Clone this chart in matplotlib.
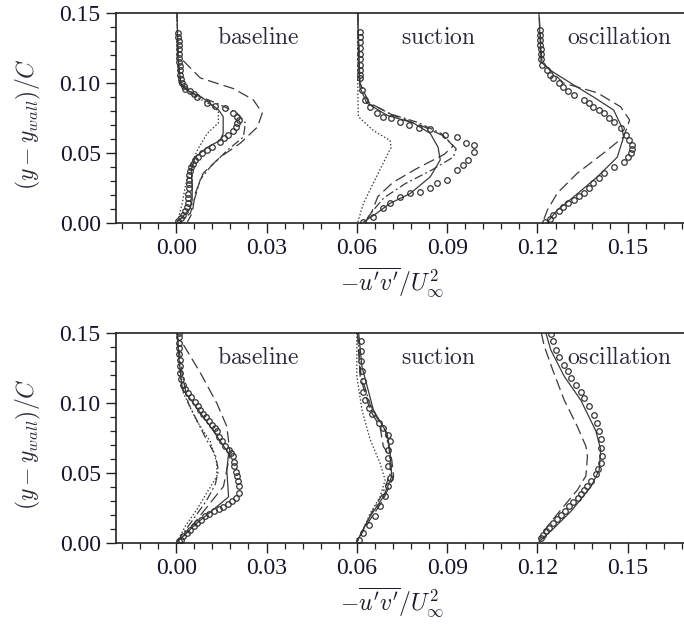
import matplotlib
matplotlib.use("Agg")
import matplotlib.pyplot as plt
from matplotlib.ticker import MultipleLocator, FormatStrFormatter

plt.rcParams['mathtext.fontset'] = 'cm'

# ---------------- data ----------------
cases = ["baseline", "suction", "oscillation"]
offsets = [0.0, 0.06, 0.12]
xticks = [0.00, 0.03, 0.06, 0.09, 0.12, 0.15]
yticks = [0.00, 0.05, 0.10, 0.15]

# ===== TOP PANEL =====
# baseline
t_base_exp_y = [0.136, 0.133, 0.130, 0.127, 0.124, 0.121, 0.118, 0.115, 0.112, 0.109, 0.106, 0.103, 0.100,
                0.098, 0.096, 0.094, 0.092, 0.090, 0.086, 0.0836, 0.082, 0.0786, 0.0757, 0.0735, 0.0714,
                0.0685, 0.066, 0.063, 0.0605, 0.058, 0.054, 0.052, 0.050, 0.0475, 0.045, 0.0425, 0.040,
                0.037, 0.034, 0.031, 0.028, 0.025, 0.021, 0.018, 0.0145, 0.0114, 0.0085, 0.0057, 0.0035, 0.0014]
t_base_exp_x = [0.0007, 0.0007, 0.0008, 0.0008, 0.0009, 0.0009, 0.0010, 0.0010, 0.0011, 0.0012, 0.0013, 0.0015, 0.0020,
                0.0025, 0.0030, 0.0045, 0.0058, 0.0070, 0.0103, 0.0130, 0.0163, 0.0190, 0.0203, 0.0207, 0.0203,
                0.0197, 0.0190, 0.0173, 0.0160, 0.0146, 0.0120, 0.0103, 0.0086, 0.0073, 0.0063, 0.0055, 0.0050,
                0.0046, 0.0044, 0.0043, 0.0042, 0.0041, 0.0040, 0.0039, 0.0038, 0.0037, 0.0030, 0.0023, 0.0015, 0.0007]
t_base_sol_y = [0.150, 0.120, 0.100, 0.095, 0.089, 0.081, 0.076, 0.064, 0.059, 0.054, 0.047, 0.038, 0.026, 0.0164, 0.011, 0.004, 0.0]
t_base_sol_x = [0.0003, 0.0005, 0.0015, 0.0035, 0.0090, 0.0140, 0.0156, 0.0156, 0.0146, 0.0103, 0.0063, 0.0050, 0.0053, 0.0053, 0.0047, 0.0020, 0.0]
t_base_dash_y = [0.116, 0.1036, 0.096, 0.088, 0.0786, 0.0686, 0.057, 0.047, 0.0357, 0.021, 0.007, 0.0007]
t_base_dash_x = [0.0023, 0.0080, 0.0190, 0.0256, 0.0286, 0.0270, 0.0213, 0.0146, 0.0090, 0.0063, 0.0053, 0.0037]
t_base_dd_y = [0.150, 0.100, 0.092, 0.085, 0.079, 0.0714, 0.0614, 0.052, 0.040, 0.031, 0.0186, 0.007, 0.0]
t_base_dd_x = [0.0002, 0.0010, 0.0060, 0.0140, 0.0200, 0.0230, 0.0223, 0.0170, 0.0113, 0.0080, 0.0063, 0.0047, 0.0010]
t_base_dot_y = [0.150, 0.100, 0.092, 0.085, 0.080, 0.0714, 0.064, 0.052, 0.040, 0.026, 0.014, 0.0036, 0.0]
t_base_dot_x = [0.0002, 0.0010, 0.0050, 0.0110, 0.0140, 0.0140, 0.0103, 0.0070, 0.0047, 0.0030, 0.0020, 0.0007, 0.0]

# suction
t_suc_exp_y = [0.1366, 0.133, 0.129, 0.125, 0.121, 0.117, 0.113, 0.109, 0.1055, 0.1036, 0.095, 0.088, 0.083,
               0.0786, 0.0757, 0.075, 0.072, 0.070, 0.0679, 0.067, 0.063, 0.0614, 0.057, 0.0557, 0.0507, 0.045,
               0.0414, 0.0379, 0.0307, 0.0286, 0.025, 0.022, 0.0214, 0.0186, 0.0143, 0.0107, 0.0043, 0.0007]
t_suc_exp_x = [0.0009, 0.0009, 0.0009, 0.0009, 0.0010, 0.0010, 0.0010, 0.0010, 0.0010, 0.0010, 0.0017, 0.0028, 0.0045,
               0.0066, 0.0088, 0.0114, 0.0144, 0.0174, 0.0207, 0.0244, 0.0294, 0.0332, 0.0364, 0.0388, 0.0390, 0.0370,
               0.0353, 0.0332, 0.0298, 0.0265, 0.0244, 0.0210, 0.0177, 0.0144, 0.0110, 0.0088, 0.0055, 0.0022]
t_suc_sol_y = [0.150, 0.110, 0.097, 0.0857, 0.077, 0.0714, 0.064, 0.054, 0.045, 0.033, 0.021, 0.014, 0.007, 0.0007]
t_suc_sol_x = [0.0003, 0.0008, 0.0010, 0.0033, 0.0100, 0.0188, 0.0244, 0.0270, 0.0277, 0.0244, 0.0177, 0.0110, 0.0066, 0.0022]
t_suc_dash_y = [0.150, 0.100, 0.086, 0.077, 0.069, 0.062, 0.055, 0.049, 0.039, 0.029, 0.019, 0.008, 0.002]
t_suc_dash_x = [0.0003, 0.0010, 0.0040, 0.0120, 0.0220, 0.0290, 0.0320, 0.0290, 0.0200, 0.0120, 0.0070, 0.0050, 0.0030]
t_suc_dd_y = [0.150, 0.100, 0.086, 0.078, 0.072, 0.064, 0.053, 0.047, 0.038, 0.028, 0.018, 0.008, 0.001]
t_suc_dd_x = [0.0003, 0.0010, 0.0040, 0.0110, 0.0200, 0.0280, 0.0330, 0.0320, 0.0250, 0.0160, 0.0090, 0.0050, 0.0030]
t_suc_dot_y = [0.150, 0.100, 0.085, 0.076, 0.066, 0.059, 0.054, 0.043, 0.0286, 0.014, 0.002, 0.0]
t_suc_dot_x = [0.0003, 0.0003, 0.0004, 0.0005, 0.0055, 0.0110, 0.0114, 0.0088, 0.0055, 0.0022, 0.0005, 0.0003]

# oscillation
t_osc_exp_y = [0.138, 0.1345, 0.131, 0.1275, 0.124, 0.1205, 0.117, 0.113, 0.109, 0.106, 0.1036, 0.100, 0.097,
               0.094, 0.0914, 0.088, 0.0855, 0.083, 0.081, 0.0786, 0.075, 0.072, 0.068, 0.063, 0.059, 0.0557,
               0.053, 0.050, 0.047, 0.0436, 0.040, 0.0357, 0.032, 0.0286, 0.025, 0.0214, 0.019, 0.0164,
               0.014, 0.0114, 0.0085, 0.0057, 0.003, 0.0007]
t_osc_exp_x = [0.0009, 0.0009, 0.0010, 0.0010, 0.0011, 0.0012, 0.0013, 0.0015, 0.0031, 0.0042, 0.0053, 0.0070, 0.0086,
               0.0103, 0.0120, 0.0153, 0.0170, 0.0186, 0.0203, 0.0220, 0.0236, 0.0253, 0.0276, 0.0293, 0.0305, 0.0315,
               0.0315, 0.0310, 0.0300, 0.0286, 0.0253, 0.0220, 0.0203, 0.0186, 0.0170, 0.0153, 0.0137, 0.0120,
               0.0103, 0.0086, 0.0070, 0.0053, 0.0040, 0.0026]
t_osc_sol_y = [0.150, 0.115, 0.109, 0.100, 0.090, 0.0807, 0.0686, 0.0614, 0.047, 0.033, 0.0186, 0.0093, 0.0007]
t_osc_sol_x = [0.0005, 0.0012, 0.0043, 0.0110, 0.0186, 0.0253, 0.0280, 0.0286, 0.0265, 0.0199, 0.0120, 0.0066, 0.0033]
t_osc_dash_y = [0.147, 0.115, 0.100, 0.093, 0.083, 0.0736, 0.0614, 0.050, 0.0357, 0.0214, 0.0093, 0.002]
t_osc_dash_x = [0.0006, 0.0015, 0.0086, 0.0199, 0.0276, 0.0306, 0.0286, 0.0220, 0.0133, 0.0066, 0.0033, 0.0020]

# ===== BOTTOM PANEL =====
# baseline
b_base_exp_y = [0.150, 0.147, 0.143, 0.139, 0.135, 0.131, 0.1265, 0.1216, 0.117, 0.113, 0.110, 0.107, 0.104,
                0.101, 0.098, 0.095, 0.0925, 0.090, 0.087, 0.0845, 0.082, 0.0797, 0.076, 0.0726, 0.0695, 0.0667,
                0.064, 0.062, 0.058, 0.0547, 0.051, 0.0476, 0.044, 0.0404, 0.0357, 0.0325, 0.0297, 0.028, 0.026,
                0.0243, 0.0226, 0.021, 0.019, 0.0165, 0.0143, 0.012, 0.0095, 0.007, 0.0047, 0.0025, 0.0011]
b_base_exp_x = [0.0008, 0.0008, 0.0008, 0.0009, 0.0010, 0.0011, 0.0012, 0.0013, 0.0017, 0.0022, 0.0030, 0.0038, 0.0050,
                0.0063, 0.0072, 0.0080, 0.0090, 0.0100, 0.0110, 0.0119, 0.0128, 0.0135, 0.0143, 0.0152, 0.0163, 0.0174,
                0.0182, 0.0190, 0.0192, 0.0193, 0.0198, 0.0202, 0.0206, 0.0210, 0.0207, 0.0198, 0.0185, 0.0172, 0.0157,
                0.0141, 0.0124, 0.0110, 0.0096, 0.0083, 0.0069, 0.0058, 0.0047, 0.0036, 0.0024, 0.0015, 0.0008]
b_base_sol_y = [0.150, 0.130, 0.110, 0.102, 0.0833, 0.064, 0.052, 0.033, 0.024, 0.0143, 0.001]
b_base_sol_x = [0.0004, 0.0010, 0.0020, 0.0050, 0.0113, 0.0174, 0.0168, 0.0174, 0.0124, 0.0069, 0.0004]
b_base_dash_y = [0.1416, 0.1216, 0.0998, 0.0833, 0.064, 0.0404, 0.0286, 0.0167, 0.0047]
b_base_dash_x = [0.0024, 0.0080, 0.0135, 0.0168, 0.0179, 0.0157, 0.0113, 0.0069, 0.0024]
b_base_dd_y = [0.150, 0.120, 0.100, 0.087, 0.074, 0.063, 0.052, 0.042, 0.030, 0.018, 0.006, 0.0]
b_base_dd_x = [0.0003, 0.0020, 0.0040, 0.0070, 0.0100, 0.0130, 0.0140, 0.0130, 0.0100, 0.0060, 0.0020, 0.0]
b_base_dot_y = [0.150, 0.120, 0.107, 0.088, 0.0726, 0.057, 0.0476, 0.036, 0.024, 0.012, 0.001]
b_base_dot_x = [0.0003, 0.0012, 0.0024, 0.0066, 0.0113, 0.0135, 0.0135, 0.0102, 0.0069, 0.0030, 0.0004]

# suction
b_suc_exp_y = [0.144, 0.137, 0.130, 0.1226, 0.1155, 0.108, 0.102, 0.0964, 0.092, 0.0857, 0.082, 0.0774, 0.0726,
               0.0667, 0.0607, 0.0547, 0.0464, 0.0405, 0.0333, 0.0262, 0.019, 0.0131, 0.0071, 0.0024]
b_suc_exp_x = [0.0013, 0.0013, 0.0013, 0.0017, 0.0019, 0.0022, 0.0028, 0.0039, 0.0050, 0.0072, 0.0088, 0.0105, 0.0110,
               0.0105, 0.0105, 0.0105, 0.0110, 0.0105, 0.0094, 0.0077, 0.0061, 0.0039, 0.0022, 0.0006]
b_suc_sol_y = [0.150, 0.126, 0.095, 0.0786, 0.0667, 0.0476, 0.033, 0.019, 0.001]
b_suc_sol_x = [0.0006, 0.0017, 0.0055, 0.0100, 0.0110, 0.0116, 0.0088, 0.0044, 0.0]
b_suc_dash_y = [0.150, 0.119, 0.095, 0.083, 0.069, 0.0595, 0.0476, 0.031, 0.0167, 0.005]
b_suc_dash_x = [0.0002, 0.0011, 0.0044, 0.0077, 0.0088, 0.0116, 0.0122, 0.0088, 0.0044, 0.0011]
b_suc_dd_y = [0.150, 0.120, 0.095, 0.080, 0.066, 0.050, 0.035, 0.020, 0.002]
b_suc_dd_x = [0.0002, 0.0014, 0.0050, 0.0095, 0.0108, 0.0112, 0.0085, 0.0045, 0.0003]
b_suc_dot_y = [0.150, 0.119, 0.095, 0.074, 0.057, 0.045, 0.033, 0.021, 0.005, 0.0]
b_suc_dot_x = [0.0, 0.0, 0.0017, 0.0044, 0.0077, 0.0094, 0.0077, 0.0044, 0.0011, 0.0]

# oscillation
b_osc_exp_y = [0.149, 0.144, 0.138, 0.133, 0.127, 0.1226, 0.1179, 0.113, 0.108, 0.1036, 0.0976, 0.0917, 0.0857,
               0.080, 0.074, 0.068, 0.062, 0.057, 0.053, 0.049, 0.044, 0.041, 0.038, 0.035, 0.032, 0.029,
               0.0262, 0.023, 0.0202, 0.017, 0.0143, 0.011, 0.0083, 0.006, 0.0036]
b_osc_exp_x = [0.0044, 0.0050, 0.0061, 0.0072, 0.0089, 0.0100, 0.0111, 0.0127, 0.0144, 0.0155, 0.0172, 0.0188, 0.0199,
               0.0205, 0.0210, 0.0210, 0.0213, 0.0210, 0.0202, 0.0194, 0.0177, 0.0166, 0.0155, 0.0144, 0.0133, 0.0119,
               0.0105, 0.0092, 0.0078, 0.0064, 0.0050, 0.0039, 0.0028, 0.0020, 0.0011]
b_osc_sol_y = [0.150, 0.138, 0.119, 0.102, 0.080, 0.0667, 0.052, 0.040, 0.0226, 0.0107, 0.0011]
b_osc_sol_x = [0.0028, 0.0044, 0.0089, 0.0144, 0.0194, 0.0210, 0.0205, 0.0177, 0.0111, 0.0055, 0.0006]
b_osc_dash_y = [0.150, 0.141, 0.124, 0.102, 0.083, 0.069, 0.062, 0.048, 0.038, 0.0238, 0.0119, 0.0024]
b_osc_dash_x = [0.0013, 0.0022, 0.0050, 0.0089, 0.0133, 0.0161, 0.0166, 0.0161, 0.0133, 0.0078, 0.0033, 0.0006]

top_panel = [
    dict(exp=(t_base_exp_x, t_base_exp_y), sol=(t_base_sol_x, t_base_sol_y), dash=(t_base_dash_x, t_base_dash_y),
         dd=(t_base_dd_x, t_base_dd_y), dot=(t_base_dot_x, t_base_dot_y)),
    dict(exp=(t_suc_exp_x, t_suc_exp_y), sol=(t_suc_sol_x, t_suc_sol_y), dash=(t_suc_dash_x, t_suc_dash_y),
         dd=(t_suc_dd_x, t_suc_dd_y), dot=(t_suc_dot_x, t_suc_dot_y)),
    dict(exp=(t_osc_exp_x, t_osc_exp_y), sol=(t_osc_sol_x, t_osc_sol_y), dash=(t_osc_dash_x, t_osc_dash_y)),
]
bottom_panel = [
    dict(exp=(b_base_exp_x, b_base_exp_y), sol=(b_base_sol_x, b_base_sol_y), dash=(b_base_dash_x, b_base_dash_y),
         dd=(b_base_dd_x, b_base_dd_y), dot=(b_base_dot_x, b_base_dot_y)),
    dict(exp=(b_suc_exp_x, b_suc_exp_y), sol=(b_suc_sol_x, b_suc_sol_y), dash=(b_suc_dash_x, b_suc_dash_y),
         dd=(b_suc_dd_x, b_suc_dd_y), dot=(b_suc_dot_x, b_suc_dot_y)),
    dict(exp=(b_osc_exp_x, b_osc_exp_y), sol=(b_osc_sol_x, b_osc_sol_y), dash=(b_osc_dash_x, b_osc_dash_y)),
]

# ---------------- styles ----------------
LC = '#3a3a3a'
TC = '#15152a'
styles = {
    'sol': dict(linestyle='-', lw=0.9),
    'dash': dict(linestyle=(0, (9, 4)), lw=0.9),
    'dd': dict(linestyle=(0, (7, 2.5, 1.5, 2.5)), lw=0.9),
    'dot': dict(linestyle=(0, (1.2, 1.6)), lw=0.9),
}

fig = plt.figure(figsize=(6.84, 6.26), dpi=100)
W, H = 684, 626


def make_axes(top_px, bot_px):
    left = 116 / W
    width = (688 - 116) / W
    return fig.add_axes([left, 1 - bot_px / H, width, (bot_px - top_px) / H])


serif = ['Liberation Serif', 'DejaVu Serif']

for panel, (tpx, bpx) in zip([top_panel, bottom_panel], [(13, 223), (333, 543)]):
    ax = make_axes(tpx, bpx)
    for off, series, name in zip(offsets, panel, cases):
        for key in ['dot', 'dd', 'dash', 'sol']:
            if key in series:
                xs, ys = series[key]
                ax.plot([off + v for v in xs], ys, color=LC, **styles[key])
        xs, ys = series['exp']
        ax.plot([off + v for v in xs], ys, linestyle='none', marker='o', ms=4.0,
                mfc='none', mec='#333333', mew=0.9)
        ax.text(off + 0.0272, 0.133, r'$\mathrm{' + name + '}$', fontsize=17,
                color='#2a2a3a', ha='center', va='center')
    ax.set_xlim(-0.02, 0.17)
    ax.set_ylim(0.0, 0.15)
    ax.set_xticks(xticks)
    ax.set_yticks(yticks)
    ax.xaxis.set_minor_locator(MultipleLocator(0.006))
    ax.yaxis.set_minor_locator(MultipleLocator(0.01))
    ax.xaxis.set_major_formatter(FormatStrFormatter('%.2f'))
    ax.yaxis.set_major_formatter(FormatStrFormatter('%.2f'))
    ax.tick_params(which='major', direction='out', length=7, width=1.0, color='#222222',
                   labelsize=17, labelcolor=TC, pad=4)
    ax.tick_params(which='minor', direction='out', length=4, width=0.9, color='#222222')
    for lab in ax.get_xticklabels() + ax.get_yticklabels():
        lab.set_family(serif)
    ax.spines['right'].set_visible(False)
    for s in ['left', 'bottom', 'top']:
        ax.spines[s].set_linewidth(1.2)
        ax.spines[s].set_color('#222222')
    ax.set_ylabel(r'$(y-y_{wall})/C$', fontsize=17, color='#2a2a3a')
    ax.yaxis.label.set_va('center')
    ax.yaxis.set_label_coords((28 - 116) / 572, 0.47)
    ax.set_xlabel(r"$-\overline{u'v'}/U_\infty^2$", fontsize=17, color='#1a1a2a')
    ax.xaxis.label.set_va('center')
    ax.xaxis.set_label_coords((392 - 116) / 572, -(282 - 223) / 210)

fig.savefig('out.png', dpi=100)
